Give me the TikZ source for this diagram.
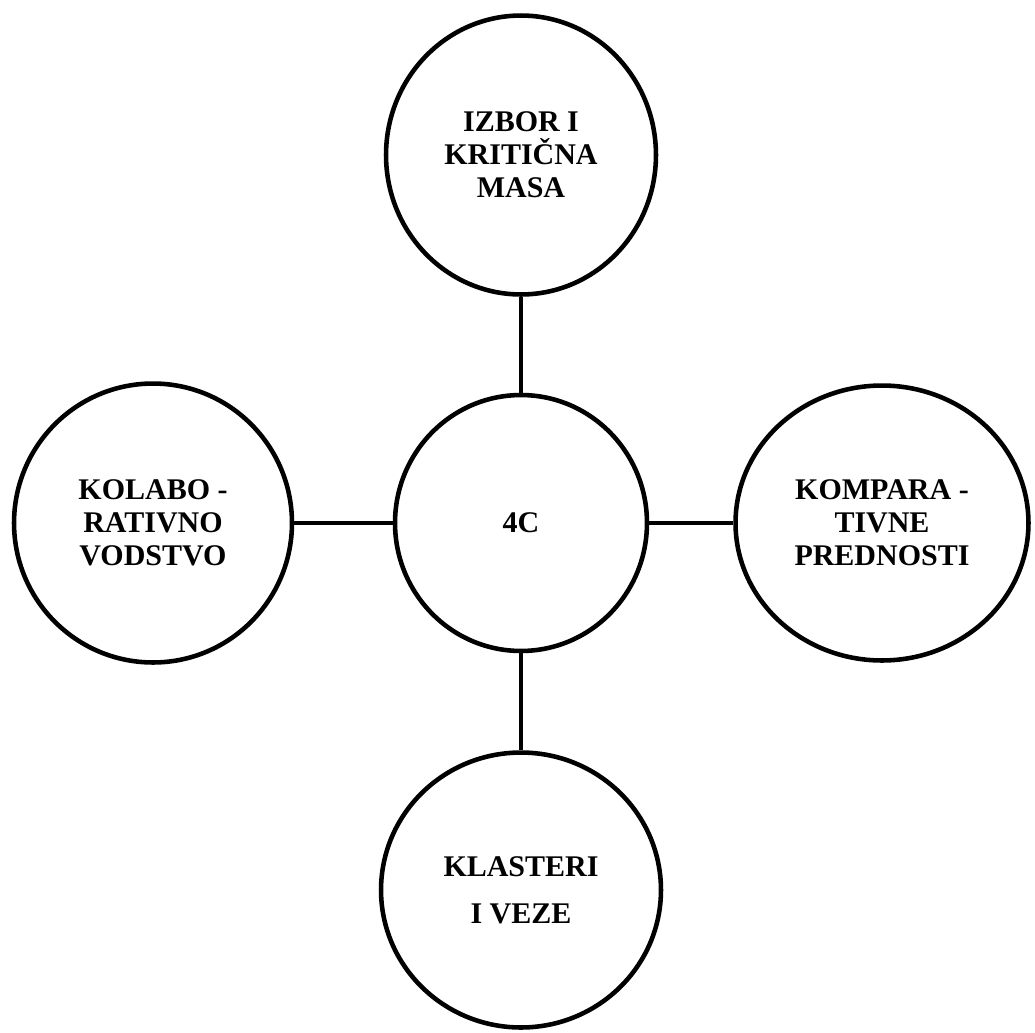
\documentclass[tikz,border=0pt]{standalone}
\usepackage{fontspec}
\setmainfont{Liberation Serif}
\usetikzlibrary{shapes.geometric}

\begin{document}
\begin{tikzpicture}
        [x=0.02cm, y=-0.02cm,
        ring/.style={ellipse, draw, line width=2.6pt, inner sep=0pt, align=center,
                font=\bfseries\fontsize{17.07}{18.8}\selectfont},
        link/.style={line width=2.6pt}]

        \useasboundingbox (0,0) rectangle (1035,1032);

        \node [ring, minimum width=5.04cm, minimum height=5.12cm] (core) at (521,523) {4C};

        \node [ring, minimum width=5.4cm, minimum height=5.58cm] (izbor) at (521,155)
                {IZBOR I\\KRITIČNA\\MASA};
        \node [ring, minimum width=5.56cm, minimum height=5.58cm] (kolabo) at (153,523)
                {KOLABO -\\RATIVNO\\VODSTVO};
        \node [ring, minimum width=5.86cm, minimum height=5.5cm] (kompara) at (882,523)
                {KOMPARA -\\TIVNE\\PREDNOSTI};
        \node [ring, minimum width=5.6cm, minimum height=5.5cm,
                font=\bfseries\fontsize{17.07}{26.7}\selectfont] (klasteri) at (521,890)
                {KLASTERI\\I VEZE};

        \draw [link] (core) -- (izbor);
        \draw [link] (core) -- (kolabo);
        \draw [link] (core) -- (kompara);
        \draw [link] (core) -- (klasteri);
    \end{tikzpicture}
\end{document}
